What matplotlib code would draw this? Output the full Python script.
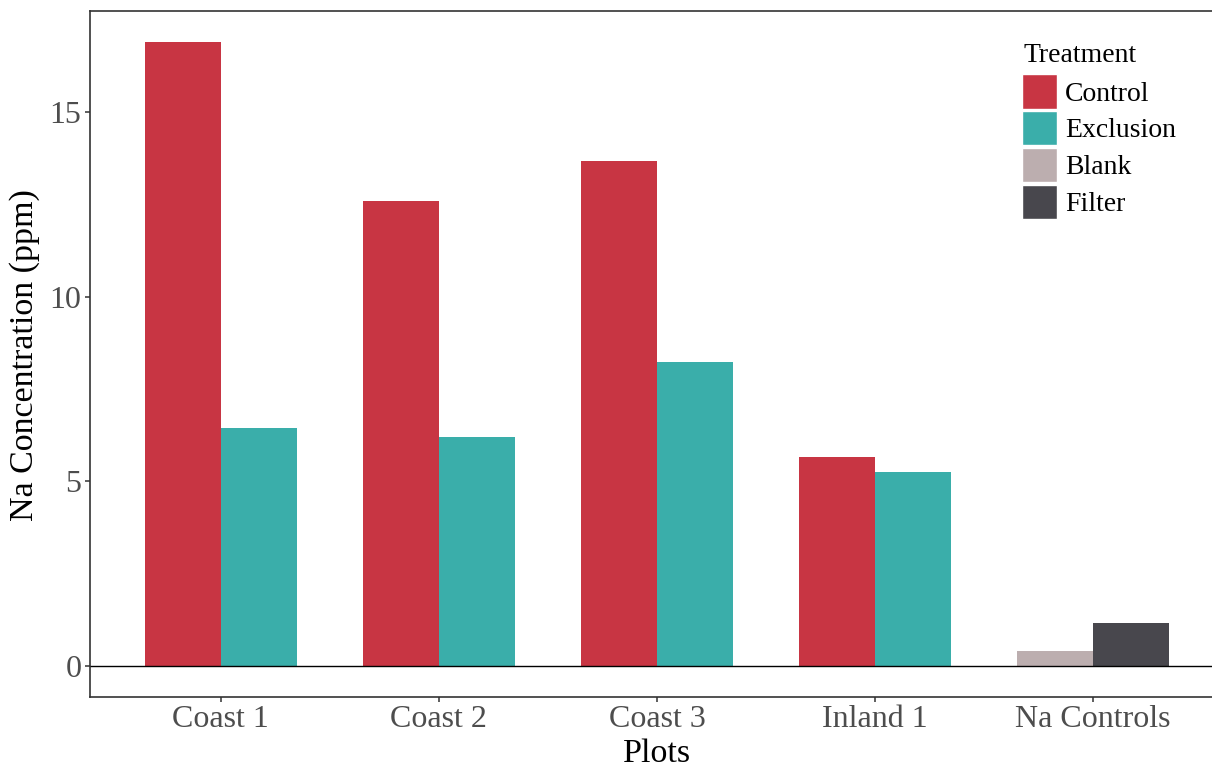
import matplotlib
matplotlib.use("Agg")
import matplotlib.pyplot as plt
from matplotlib.patches import Rectangle
import numpy as np

plt.rcParams['font.family'] = ['Liberation Serif', 'DejaVu Serif']

# Sodium concentration per plot and treatment
plots = ["Coast 1", "Coast 2", "Coast 3", "Inland 1", "Na Controls"]
treatments = ["Control", "Exclusion", "Blank", "Filter"]
colors = ["#C83543", "#3AAEAA", "#BCAEAF", "#48474D"]

control = [16.89, 12.60, 13.68, 5.65]      # Coast 1..Inland 1
exclusion = [6.43, 6.19, 8.23, 5.25]       # Coast 1..Inland 1
blank = [0.41]                             # Na Controls
filt = [1.15]                              # Na Controls

W, H = 1212, 770
fig = plt.figure(figsize=(W / 100, H / 100), dpi=100)
left, right, top, bottom = 90, 1224, 11, 697
ax = fig.add_axes([left / W, 1 - bottom / H, (right - left) / W, (bottom - top) / H])

x = np.arange(len(plots)) + 1
bw = 0.35
ax.bar(x[:4] - bw / 2, control, width=bw, color=colors[0], linewidth=0)
ax.bar(x[:4] + bw / 2, exclusion, width=bw, color=colors[1], linewidth=0)
ax.bar(x[4:] - bw / 2, blank, width=bw, color=colors[2], linewidth=0)
ax.bar(x[4:] + bw / 2, filt, width=bw, color=colors[3], linewidth=0)

ax.axhline(0, color="black", linewidth=1.0)

ymax = max(control + exclusion + blank + filt)
pad = 0.05 * ymax
ax.set_ylim(-pad, ymax + pad)
ax.set_xlim(0.4, len(plots) + 0.6)

ax.set_xticks(x)
ax.set_xticklabels(plots)
ax.set_yticks([0, 5, 10, 15])
ax.tick_params(axis="both", labelsize=23, labelcolor="#4D4D4D", color="#333333",
               length=3.6, width=1.1, direction="out")
ax.tick_params(axis="x", pad=2.5)
ax.tick_params(axis="y", pad=2.5)

for s in ax.spines.values():
    s.set_color("#333333")
    s.set_linewidth(1.2)

# Axis titles, placed in figure pixels
def px(xp, yp):
    return xp / W, 1 - yp / H

fig.text(*px(657, 762), "Plots", fontsize=24.5, color="black",
         ha="center", va="baseline")
fig.text(*px(33, 355), "Na Concentration (ppm)", fontsize=24.5, color="black",
         ha="center", va="baseline", rotation=90, rotation_mode="anchor")

# Legend: title, colour keys and labels
fig.text(*px(1023, 62), "Treatment", fontsize=20, color="black",
         ha="left", va="baseline")
key_w, key_h, pitch = 35, 34, 36.7
for i, (name, c) in enumerate(zip(treatments, colors)):
    cy = 91.5 + pitch * i
    fig.add_artist(Rectangle(px(1022, cy + key_h / 2), key_w / W, key_h / H,
                             transform=fig.transFigure, facecolor=c,
                             edgecolor="white", linewidth=1.0))
    fig.text(*px(1065, cy + 9.2), name, fontsize=20, color="black",
             ha="left", va="baseline")

fig.savefig("out.png", dpi=100)
